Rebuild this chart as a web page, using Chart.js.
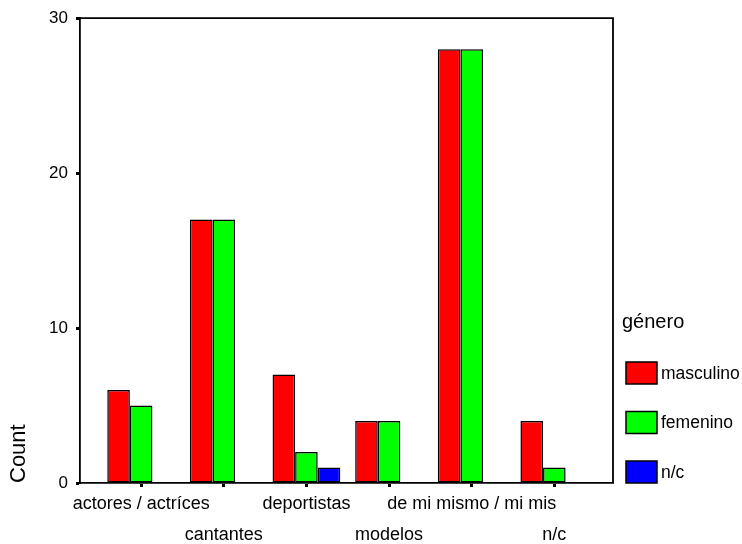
<!DOCTYPE html>
<html>
<head>
<meta charset="utf-8">
<script src="https://cdn.jsdelivr.net/npm/chart.js@4/dist/chart.umd.min.js"></script>
<style>
  html, body { margin: 0; padding: 0; background: #fff; }
  #wrap { width: 742px; height: 544px; }
</style>
</head>
<body>
<div id="wrap"><canvas id="chart"></canvas></div>
<script>
const categories = ['actores / actríces', 'cantantes', 'deportistas', 'modelos', 'de mi mismo / mi mis', 'n/c'];
const masculino = [6, 17, 7, 4, 28, 4];
const femenino = [5, 17, 2, 4, 28, 1];
const nc = [0, 0, 1, 0, 0, 0];
const seriesNames = ['masculino', 'femenino', 'n/c'];
const seriesColors = ['#ff0000', '#00ff00', '#0000ff'];
const yTicks = [0, 10, 20, 30];
const legendTitle = 'género';
const yTitle = 'Count';

const FONT = "'Liberation Sans', Arial, sans-serif";

const toPoints = arr => arr.map((v, i) => ({ x: i, y: v }));

// frame on top and right of plot area
const framePlugin = {
    id: 'frame',
    afterDatasetsDraw(chart) {
        const a = chart.chartArea;
        const ctx = chart.ctx;
        ctx.save();
        ctx.strokeStyle = '#000';
        ctx.lineWidth = 1.8;
        ctx.beginPath();
        ctx.moveTo(a.left, a.top);
        ctx.lineTo(a.right, a.top);
        ctx.lineTo(a.right, a.bottom);
        ctx.stroke();
        ctx.restore();
    }
};

// SPSS style legend to the right of the plot
const legendPlugin = {
    id: 'spssLegend',
    afterDraw(chart) {
        const a = chart.chartArea;
        const ctx = chart.ctx;
        ctx.save();
        ctx.fillStyle = '#000';
        ctx.textBaseline = 'middle';
        ctx.textAlign = 'left';
        ctx.font = '20px ' + FONT;
        ctx.fillText(legendTitle, a.right + 9, a.bottom - 161);
        ctx.font = '17.5px ' + FONT;
        chart.data.datasets.forEach((ds, i) => {
            const top = a.bottom - 121 + i * 49.5;
            ctx.fillStyle = ds.backgroundColor;
            ctx.fillRect(a.right + 13, top, 31, 22);
            ctx.strokeStyle = '#000';
            ctx.lineWidth = 1.5;
            ctx.strokeRect(a.right + 13, top, 31, 22);
            ctx.fillStyle = '#000';
            ctx.fillText(ds.label, a.right + 48, top + 12);
        });
        ctx.restore();
    }
};

const datasets = [masculino, femenino, nc].map((d, i) => ({
    label: seriesNames[i],
    data: toPoints(d),
    backgroundColor: seriesColors[i],
    borderColor: '#000',
    borderWidth: 1.5,
    borderSkipped: false,
    categoryPercentage: 0.82,
    barPercentage: 1.0
}));

new Chart(document.getElementById('chart'), {
    type: 'bar',
    data: { datasets: datasets },
    options: {
        responsive: true,
        maintainAspectRatio: false,
        animation: false,
        layout: { padding: { top: 16, right: 129, bottom: 0, left: 0 } },
        plugins: {
            legend: { display: false },
            tooltip: { enabled: false }
        },
        scales: {
            x: {
                type: 'linear',
                min: -0.74,
                max: 5.71,
                offset: false,
                afterBuildTicks: scale => {
                    scale.ticks = categories.map((c, i) => ({ value: i }));
                },
                afterFit: scale => { scale.height = 61; },
                grid: {
                    offset: false,
                    drawOnChartArea: false,
                    drawTicks: true,
                    tickLength: 4,
                    tickWidth: 3,
                    tickColor: '#000'
                },
                border: { color: '#000', width: 1.8 },
                ticks: {
                    autoSkip: false,
                    maxRotation: 0,
                    padding: 2,
                    color: '#000',
                    font: { family: FONT, size: 18, lineHeight: 1.69 },
                    callback: (value) => {
                        const label = categories[value];
                        return value % 2 === 0 ? label : ['', label];
                    }
                }
            },
            y: {
                min: 0,
                max: 30,
                afterBuildTicks: scale => {
                    scale.ticks = yTicks.map(v => ({ value: v }));
                },
                afterFit: scale => { scale.width = 80; },
                grid: {
                    drawOnChartArea: false,
                    drawTicks: true,
                    tickLength: 4,
                    tickWidth: 3,
                    tickColor: '#000'
                },
                border: { color: '#000', width: 1.8 },
                ticks: {
                    padding: 8,
                    color: '#000',
                    font: { family: FONT, size: 17 }
                },
                title: {
                    display: true,
                    text: yTitle,
                    align: 'start',
                    color: '#000',
                    font: { family: FONT, size: 22 },
                    padding: { top: 6, bottom: 0 }
                }
            }
        }
    },
    plugins: [framePlugin, legendPlugin]
});
</script>
</body>
</html>
